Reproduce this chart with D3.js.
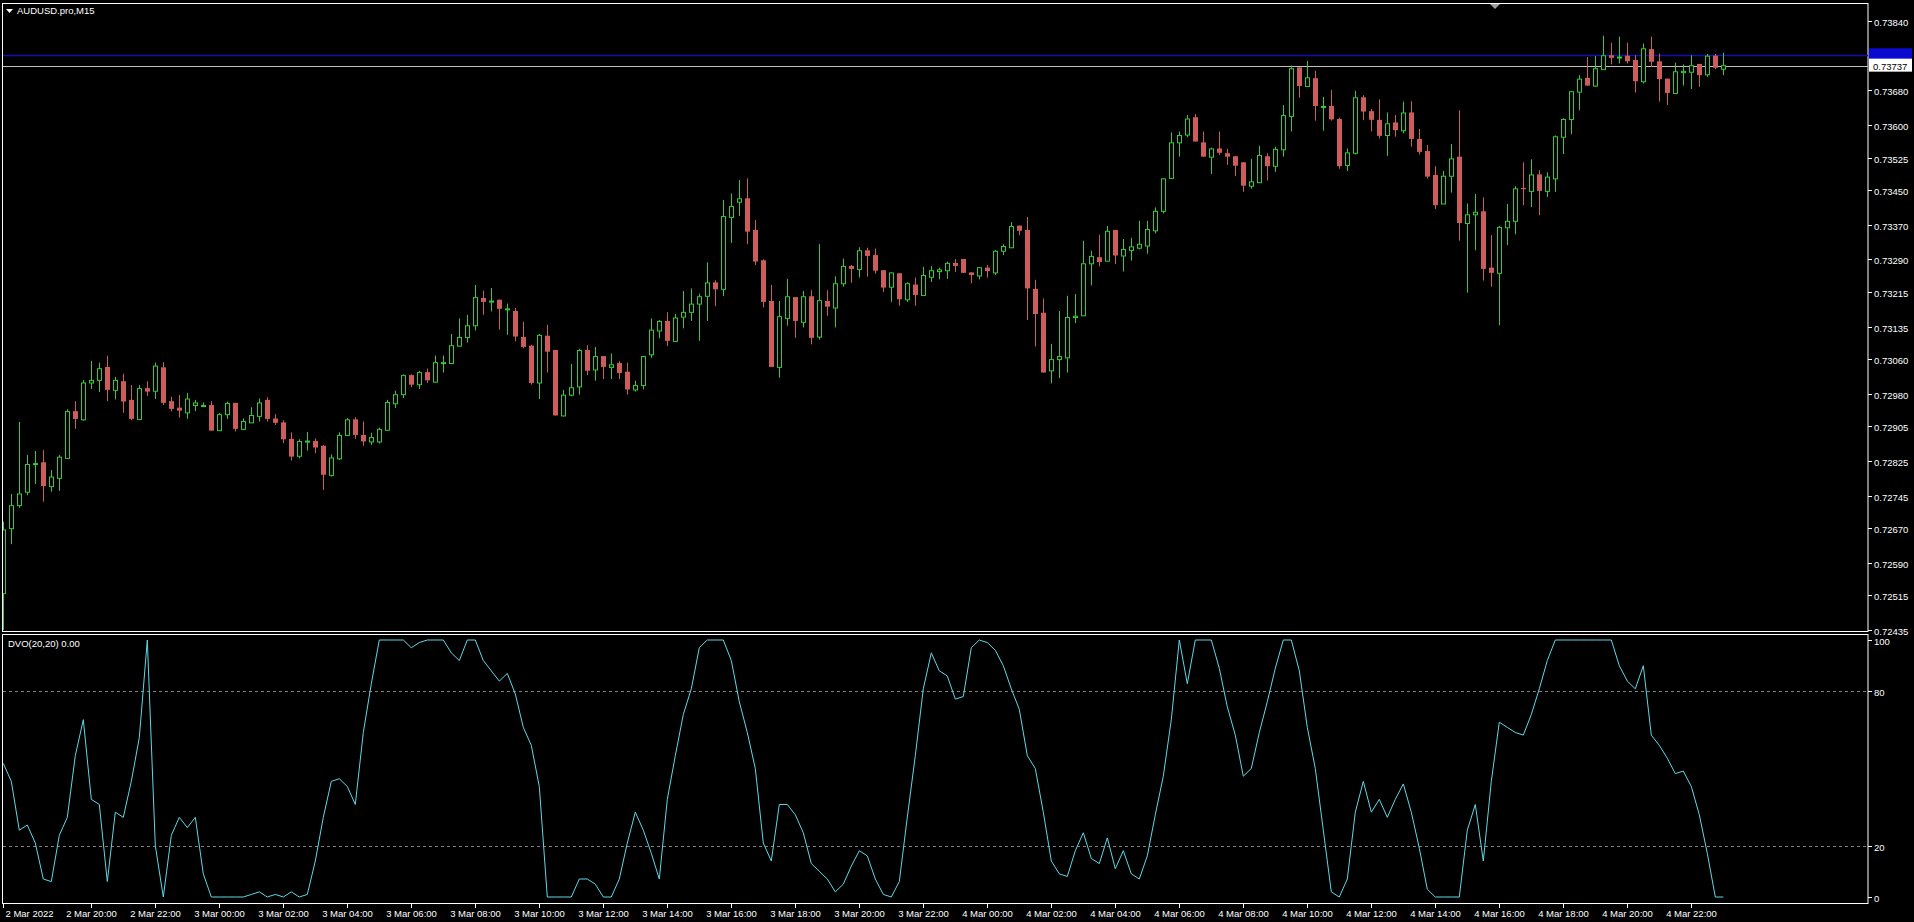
<!DOCTYPE html>
<html><head><meta charset="utf-8">
<script src="https://cdn.jsdelivr.net/npm/d3@7/dist/d3.min.js"></script>
<style>html,body{margin:0;padding:0;background:#000;overflow:hidden}text{font-family:"Liberation Sans",Arial,sans-serif}</style>
</head><body><svg id="c" width="1914" height="922"></svg>
<script>
// Prices stored as offset from 0.72000 in units of 0.00001
const BASE = 0.72;
const opens = [520,670,723,754,818,822,767,786,832,940,921,1006,1012,1042,989,1009,966,922,993,987,1041,963,948,937,954,953,954,896,933,959,899,914,929,966,923,914,876,837,871,871,860,793,831,885,921,885,870,870,897,958,979,1023,1002,1030,1008,1053,1051,1091,1111,1138,1201,1194,1197,1177,1171,1111,1091,1006,1114,1081,930,978,997,1081,1036,1067,1042,1051,1031,990,1000,1071,1126,1148,1102,1158,1169,1188,1206,1237,1222,1388,1423,1431,1358,1288,1194,1042,1155,1203,1146,1205,1112,1194,1179,1235,1275,1268,1311,1300,1265,1227,1258,1198,1232,1208,1250,1263,1265,1282,1291,1260,1253,1271,1260,1310,1318,1368,1358,1222,1167,1034,1060,1064,1157,1161,1281,1295,1287,1358,1299,1312,1317,1322,1357,1402,1478,1560,1578,1618,1560,1527,1546,1535,1528,1514,1460,1468,1528,1506,1544,1621,1733,1690,1708,1642,1644,1614,1508,1536,1664,1632,1612,1577,1606,1588,1629,1568,1540,1485,1419,1483,1527,1374,1394,1401,1271,1259,1364,1379,1455,1448,1486,1448,1477,1573,1614,1677,1709,1691,1729,1761,1756,1760,1750,1701,1775,1747,1707,1674,1722,1723,1741,1717,1760,1730];
const highs = [685,749,915,839,848,850,804,839,944,963,1012,1056,1052,1068,1019,1026,1000,1000,1009,1052,1053,973,977,982,966,960,963,936,962,959,923,949,969,972,933,919,891,875,892,877,862,840,891,924,926,916,890,902,966,987,1025,1025,1033,1038,1068,1068,1118,1154,1162,1231,1218,1224,1197,1188,1178,1146,1093,1118,1139,1081,989,1049,1084,1092,1088,1067,1073,1055,1052,1010,1067,1154,1150,1168,1164,1217,1223,1211,1283,1242,1427,1442,1473,1477,1381,1290,1231,1194,1245,1203,1217,1219,1325,1219,1251,1292,1277,1318,1317,1315,1265,1260,1258,1237,1248,1273,1275,1271,1285,1291,1291,1260,1272,1277,1312,1325,1376,1368,1388,1243,1200,1095,1171,1206,1210,1333,1310,1347,1367,1358,1337,1340,1379,1379,1410,1477,1583,1585,1623,1625,1585,1548,1585,1545,1528,1514,1522,1552,1535,1550,1646,1737,1733,1748,1725,1665,1681,1617,1546,1679,1669,1637,1659,1629,1623,1654,1655,1591,1554,1505,1494,1556,1634,1419,1441,1433,1346,1367,1418,1459,1514,1521,1496,1491,1576,1616,1678,1715,1757,1759,1806,1790,1804,1790,1761,1788,1804,1765,1707,1744,1740,1761,1741,1764,1764,1767];
const lows = [435,633,717,746,772,731,754,756,830,899,918,991,984,963,967,936,919,919,975,968,954,939,925,922,940,952,895,895,922,893,896,913,916,916,908,866,826,831,849,843,758,789,827,883,876,860,862,865,894,947,970,995,991,1005,1006,1029,1050,1089,1098,1126,1162,1170,1128,1116,1101,1085,1001,968,1029,930,928,974,978,1023,1010,1014,1014,1014,978,985,990,1063,1108,1090,1100,1131,1148,1102,1148,1182,1205,1328,1390,1325,1277,1179,1042,1017,1137,1109,1133,1094,1105,1160,1133,1227,1236,1248,1250,1257,1215,1192,1183,1192,1183,1208,1238,1244,1245,1261,1259,1235,1244,1248,1254,1300,1318,1346,1150,1089,1029,1004,1016,1029,1143,1161,1230,1274,1287,1279,1262,1287,1313,1303,1350,1396,1476,1527,1572,1562,1527,1487,1531,1508,1482,1446,1453,1467,1472,1492,1527,1585,1663,1688,1610,1587,1610,1499,1494,1532,1611,1585,1569,1529,1573,1581,1550,1532,1477,1406,1419,1444,1333,1213,1311,1241,1227,1138,1323,1348,1415,1411,1392,1434,1446,1533,1579,1634,1691,1688,1729,1740,1742,1742,1675,1696,1734,1654,1646,1673,1691,1683,1688,1711,1729,1715];
const closes = [667,723,750,818,820,767,789,835,940,922,1006,1012,1039,989,1012,962,922,993,985,1045,959,945,941,969,960,954,895,933,959,899,917,931,960,922,913,875,835,871,872,856,793,833,885,921,885,870,880,899,961,979,1023,1001,1030,1011,1053,1053,1092,1111,1138,1203,1192,1195,1176,1177,1112,1088,1005,1116,1077,930,978,995,1081,1033,1067,1042,1048,1028,990,1000,1067,1128,1148,1102,1156,1169,1188,1205,1237,1221,1390,1413,1431,1354,1285,1192,1042,1159,1205,1148,1205,1109,1196,1181,1235,1275,1268,1311,1298,1264,1225,1260,1198,1235,1208,1254,1265,1267,1282,1275,1259,1254,1272,1263,1310,1321,1367,1356,1223,1164,1029,1060,1067,1157,1160,1281,1298,1284,1356,1299,1314,1320,1326,1360,1402,1477,1560,1577,1615,1562,1527,1546,1536,1527,1506,1460,1470,1531,1505,1545,1623,1731,1690,1710,1644,1644,1613,1505,1537,1664,1631,1612,1575,1604,1588,1629,1568,1538,1481,1415,1483,1523,1374,1394,1400,1268,1259,1365,1379,1454,1452,1486,1448,1481,1574,1614,1678,1707,1691,1731,1761,1755,1758,1747,1701,1777,1746,1706,1674,1724,1725,1738,1715,1760,1732,1738];
const dvo = [52,45,26,28,21,7,6,24,31,55,69,38,36,6,33,31,45,62,100,20,0,24,31,27,31,9,0,0,0,0,0,1,2,0,1,0,2,0,1,14,31,45,46,43,36,64,83,100,100,100,100,97,99,100,100,100,95,92,100,100,92,88,84,87,79,66,59,43,0,0,0,0,7,7,5,0,0,7,21,33,26,17,7,38,55,71,81,97,100,100,100,92,76,64,50,21,14,36,36,32,25,13,10,7,2,5,12,18,16,7,1,0,6,31,55,81,95,88,86,77,78,97,100,99,96,90,81,73,55,50,33,14,9,8,18,25,15,13,23,11,18,9,7,16,32,47,69,100,83,100,100,100,89,74,63,47,50,64,76,89,100,100,88,66,50,26,2,0,7,33,45,33,38,31,38,44,33,19,3,0,0,0,0,26,36,14,45,68,66,64,63,71,81,92,100,100,100,100,100,100,100,100,90,84,81,90,63,59,54,48,49,43,32,17,0,0];
const timeLabels = ["2 Mar 2022","2 Mar 20:00","2 Mar 22:00","3 Mar 00:00","3 Mar 02:00","3 Mar 04:00","3 Mar 06:00","3 Mar 08:00","3 Mar 10:00","3 Mar 12:00","3 Mar 14:00","3 Mar 16:00","3 Mar 18:00","3 Mar 20:00","3 Mar 22:00","4 Mar 00:00","4 Mar 02:00","4 Mar 04:00","4 Mar 06:00","4 Mar 08:00","4 Mar 10:00","4 Mar 12:00","4 Mar 14:00","4 Mar 16:00","4 Mar 18:00","4 Mar 20:00","4 Mar 22:00"];
const priceTicks = [0.73840,0.73680,0.73600,0.73525,0.73450,0.73370,0.73290,0.73215,0.73135,0.73060,0.72980,0.72905,0.72825,0.72745,0.72670,0.72590,0.72515,0.72435];
const dvoTicks = [100,80,20,0];
const dvoLevels = [80,20];
const bidPrice = 0.73737, askPrice = 0.73761;

const P = v => BASE + v/1e5;
const svg = d3.select("#c");
const n = closes.length;
const x = d3.scaleLinear().domain([0, n-1]).range([3.3, 3.3 + 8*(n-1)]);
const y = d3.scaleLinear().domain([0.72435, 0.73840]).range([630, 21]);
const yd = d3.scaleLinear().domain([0, 100]).range([897, 640]);
const AX = 1868;

svg.append("rect").attr("x",2.5).attr("y",3.5).attr("width",AX-2.5).attr("height",628).attr("fill","none").attr("stroke","#fff");
svg.append("rect").attr("x",2.5).attr("y",634.5).attr("width",AX-2.5).attr("height",269).attr("fill","none").attr("stroke","#fff");
svg.append("clipPath").attr("id","cm").append("rect").attr("x",3).attr("y",4).attr("width",AX-3).attr("height",627);
svg.append("clipPath").attr("id","cd").append("rect").attr("x",3).attr("y",635).attr("width",AX-3).attr("height",268);

svg.append("line").attr("x1",3).attr("x2",AX).attr("y1",Math.round(y(askPrice))+0.5).attr("y2",Math.round(y(askPrice))+0.5).attr("stroke","#1010b0").attr("stroke-width",1.5);
svg.append("line").attr("x1",3).attr("x2",AX).attr("y1",Math.round(y(bidPrice))+0.5).attr("y2",Math.round(y(bidPrice))+0.5).attr("stroke","#c0c0c0");

const g = svg.append("g").attr("clip-path","url(#cm)");
const bars = d3.range(n);
const up = i => closes[i] >= opens[i];
g.selectAll("line.w").data(bars).join("line")
  .attr("x1",i=>Math.round(x(i))+0.5).attr("x2",i=>Math.round(x(i))+0.5)
  .attr("y1",i=>y(P(highs[i]))).attr("y2",i=>y(P(lows[i])))
  .attr("stroke",i=>up(i)?"#32cd32":"#cd5c5c");
g.selectAll("rect.b").data(bars).join("rect")
  .attr("x",i=>Math.round(x(i))-2+(up(i)?0.5:0))
  .attr("y",i=>y(P(Math.max(opens[i],closes[i])))+(up(i)?0.5:0))
  .attr("width",i=>up(i)?4:5)
  .attr("height",i=>Math.max(1,Math.abs(y(P(opens[i]))-y(P(closes[i])))))
  .attr("fill",i=>up(i)?"#000":"#cd5c5c")
  .attr("stroke",i=>up(i)?"#32cd32":"none");

const gd = svg.append("g").attr("clip-path","url(#cd)");
dvoLevels.forEach(l=>gd.append("line").attr("x1",3).attr("x2",AX).attr("y1",Math.round(yd(l))+0.5).attr("y2",Math.round(yd(l))+0.5).attr("stroke","#808080").attr("stroke-dasharray","3,3"));
gd.append("path").datum(dvo).attr("fill","none").attr("stroke","#5fd8e6").attr("stroke-width",1)
  .attr("d",d3.line().x((d,i)=>x(i)).y(d=>yd(d)));

const fs = 9.5;
priceTicks.forEach(t=>{
  const yy = Math.round(y(t))+0.5;
  svg.append("line").attr("x1",AX).attr("x2",AX+4).attr("y1",yy).attr("y2",yy).attr("stroke","#fff");
  svg.append("text").attr("x",AX+6).attr("y",yy+4).attr("fill","#fff").attr("font-size",fs).text(t.toFixed(5));
});
const ay = y(askPrice);
svg.append("rect").attr("x",AX+1).attr("y",ay-7).attr("width",43).attr("height",13).attr("fill","#0a0ad0");
const by = y(bidPrice);
svg.append("rect").attr("x",AX+1).attr("y",by-7).attr("width",43).attr("height",13).attr("fill","#fff");
svg.append("text").attr("x",AX+5).attr("y",by+4).attr("fill","#000").attr("font-size",fs).text(bidPrice.toFixed(5));

dvoTicks.forEach(t=>{
  const yy = Math.round(yd(t))+0.5;
  svg.append("line").attr("x1",AX).attr("x2",AX+4).attr("y1",yy).attr("y2",yy).attr("stroke","#fff");
  svg.append("text").attr("x",AX+6).attr("y",yy+4).attr("fill","#fff").attr("font-size",fs).text(t);
});

// time axis: first label at bar 0, then every 8 bars (2h) starting at bar 11
timeLabels.forEach((t,k)=>{
  const bi = k===0 ? 0 : 11 + 8*(k-1);
  const xx = Math.round(x(bi))+0.5;
  svg.append("line").attr("x1",xx).attr("x2",xx).attr("y1",903).attr("y2",908).attr("stroke","#fff");
  svg.append("text").attr("x",k===0?xx+2:xx).attr("y",917).attr("fill","#fff").attr("font-size",fs)
    .attr("text-anchor",k===0?"start":"middle").text(t);
});

svg.append("path").attr("d","M6,9 L13,9 L9.5,13 Z").attr("fill","#fff");
svg.append("text").attr("x",17).attr("y",14).attr("fill","#fff").attr("font-size",fs).text("AUDUSD.pro,M15");
svg.append("text").attr("x",8).attr("y",647).attr("fill","#fff").attr("font-size",fs).text("DVO(20,20) 0.00");
svg.append("path").attr("d","M1490,4 L1500,4 L1495,9 Z").attr("fill","#a0a0a0");
</script></body></html>
